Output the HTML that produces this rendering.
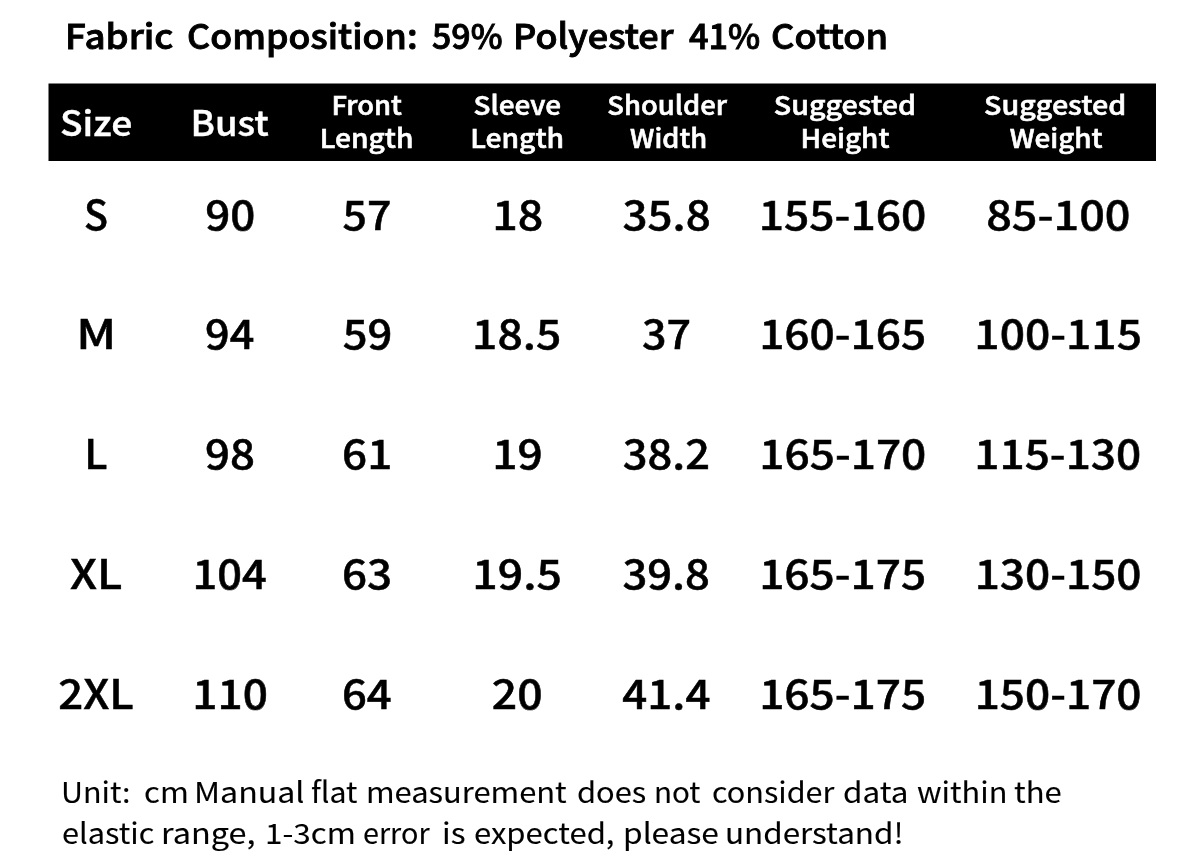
<!DOCTYPE html>
<html lang="en">
<head>
<meta charset="utf-8">
<title>Size Chart</title>
<style>
html,body{margin:0;padding:0;background:#fff;}
body{width:1200px;height:864px;position:relative;overflow:hidden;color:#000;
  font-family:"Noto Sans CJK SC","Liberation Sans",sans-serif;}
.t{position:absolute;left:0;top:0;white-space:pre;line-height:1;transform-origin:0 0;}
.t span{display:inline-block;transform-origin:0 0;}
#bar{position:absolute;left:0;top:0;width:1200px;height:200px;}
.title{font-size:34.5px;font-weight:500;color:#000;-webkit-text-stroke:0.9px #000;}
.h1{font-size:35px;font-weight:500;color:#fff;-webkit-text-stroke:0.4px #fff;}
.h2{font-size:26.2px;font-weight:500;color:#fff;-webkit-text-stroke:0.6px #fff;}
.d{font-size:40.4px;font-weight:500;color:#000;-webkit-text-stroke:0.5px #000;}
.f{font-size:28.5px;font-weight:400;color:#000;-webkit-text-stroke:0.1px #000;}
</style>
</head>
<body>
<svg id="bar" width="1200" height="200" viewBox="0 0 1200 200"><rect x="48.5" y="83.5" width="1107.5" height="77.5" fill="#000"/></svg>
<div class="t title" id="title" style="transform:translate(0px,17px)"><span style="margin-left:64.85px;transform:scaleX(1.0658)">Fabric</span> <span style="margin-left:12.65px;transform:scaleX(1.0385)">Composition:</span> <span style="margin-left:15.00px;transform:scaleX(0.9825)">59%</span> <span style="margin-left:1.86px;transform:scaleX(1.0449)">Polyester</span> <span style="margin-left:14.35px;transform:scaleX(0.9917)">41%</span> <span style="margin-left:2.53px;transform:scaleX(1.0507)">Cotton</span></div>
<div class="t h1" id="hs" style="transform:translate(59.96px,103px) scaleX(1.0638)">Size</div>
<div class="t h1" id="hb" style="transform:translate(190.57px,103px) scaleX(1.0435)">Bust</div>
<div class="t h2" id="h3a" style="transform:translate(331.40px,91px) scaleX(1.0446)">Front</div>
<div class="t h2" id="h3b" style="transform:translate(319.65px,124px) scaleX(1.0754)">Length</div>
<div class="t h2" id="h4a" style="transform:translate(473.56px,91px) scaleX(1.0632)">Sleeve</div>
<div class="t h2" id="h4b" style="transform:translate(470.20px,124px) scaleX(1.0767)">Length</div>
<div class="t h2" id="h5a" style="transform:translate(607.31px,91px) scaleX(1.0458)">Shoulder</div>
<div class="t h2" id="h5b" style="transform:translate(630.08px,124px) scaleX(1.0403)">Width</div>
<div class="t h2" id="h6a" style="transform:translate(773.80px,91px) scaleX(1.0942)">Suggested</div>
<div class="t h2" id="h6b" style="transform:translate(800.59px,124px) scaleX(1.0637)">Height</div>
<div class="t h2" id="h7a" style="transform:translate(984.11px,91px) scaleX(1.0933)">Suggested</div>
<div class="t h2" id="h7b" style="transform:translate(1009.63px,124px) scaleX(1.0605)">Weight</div>
<div class="t d" id="d00" style="transform:translate(83.99px,193px) scaleX(0.9776)">S</div>
<div class="t d" id="d01" style="transform:translate(205.23px,193px) scaleX(1.0880)">90</div>
<div class="t d" id="d02" style="transform:translate(342.51px,193px) scaleX(1.0612)">57</div>
<div class="t d" id="d03" style="transform:translate(492.24px,193px) scaleX(1.1097)">18</div>
<div class="t d" id="d04" style="transform:translate(622.49px,193px) scaleX(1.0878)">35.8</div>
<div class="t d" id="d05" style="transform:translate(758.67px,193px) scaleX(1.0996)">155-160</div>
<div class="t d" id="d06" style="transform:translate(986.14px,193px) scaleX(1.1140)">85-100</div>
<div class="t d" id="d10" style="transform:translate(76.36px,312px) scaleX(1.1908)">M</div>
<div class="t d" id="d11" style="transform:translate(205.09px,312px) scaleX(1.0713)">94</div>
<div class="t d" id="d12" style="transform:translate(342.75px,312px) scaleX(1.0780)">59</div>
<div class="t d" id="d13" style="transform:translate(472.10px,312px) scaleX(1.0993)">18.5</div>
<div class="t d" id="d14" style="transform:translate(642.07px,312px) scaleX(1.0655)">37</div>
<div class="t d" id="d15" style="transform:translate(759.13px,312px) scaleX(1.0956)">160-165</div>
<div class="t d" id="d16" style="transform:translate(974.35px,312px) scaleX(1.0985)">100-115</div>
<div class="t d" id="d20" style="transform:translate(84.16px,432px) scaleX(1.0330)">L</div>
<div class="t d" id="d21" style="transform:translate(205.06px,432px) scaleX(1.0846)">98</div>
<div class="t d" id="d22" style="transform:translate(342.08px,432px) scaleX(1.0900)">61</div>
<div class="t d" id="d23" style="transform:translate(492.15px,432px) scaleX(1.0978)">19</div>
<div class="t d" id="d24" style="transform:translate(622.80px,432px) scaleX(1.0763)">38.2</div>
<div class="t d" id="d25" style="transform:translate(759.30px,432px) scaleX(1.0945)">165-170</div>
<div class="t d" id="d26" style="transform:translate(974.29px,432px) scaleX(1.0942)">115-130</div>
<div class="t d" id="d30" style="transform:translate(70.08px,552px) scaleX(1.1223)">XL</div>
<div class="t d" id="d31" style="transform:translate(192.53px,552px) scaleX(1.0755)">104</div>
<div class="t d" id="d32" style="transform:translate(341.93px,552px) scaleX(1.0884)">63</div>
<div class="t d" id="d33" style="transform:translate(472.29px,552px) scaleX(1.1041)">19.5</div>
<div class="t d" id="d34" style="transform:translate(622.38px,552px) scaleX(1.0796)">39.8</div>
<div class="t d" id="d35" style="transform:translate(759.13px,552px) scaleX(1.0956)">165-175</div>
<div class="t d" id="d36" style="transform:translate(974.63px,552px) scaleX(1.0939)">130-150</div>
<div class="t d" id="d40" style="transform:translate(58.26px,672px) scaleX(1.0846)">2XL</div>
<div class="t d" id="d41" style="transform:translate(192.24px,672px) scaleX(1.0946)">110</div>
<div class="t d" id="d42" style="transform:translate(341.95px,672px) scaleX(1.0798)">64</div>
<div class="t d" id="d43" style="transform:translate(491.81px,672px) scaleX(1.1032)">20</div>
<div class="t d" id="d44" style="transform:translate(622.30px,672px) scaleX(1.0860)">41.4</div>
<div class="t d" id="d45" style="transform:translate(759.13px,672px) scaleX(1.0956)">165-175</div>
<div class="t d" id="d46" style="transform:translate(974.63px,672px) scaleX(1.0939)">150-170</div>
<div class="t f" id="f1" style="transform:translate(0px,777px)"><span style="margin-left:60.51px;transform:scaleX(1.0692)">Unit: </span> <span style="margin-left:5.35px;transform:scaleX(1.0934)">cm</span> <span style="margin-left:2.75px;transform:scaleX(1.1268)">Manual</span> <span style="margin-left:12.93px;transform:scaleX(1.0608)">flat</span> <span style="margin-left:5.41px;transform:scaleX(1.0836)">measurement</span> <span style="margin-left:18.69px;transform:scaleX(1.0811)">does</span> <span style="margin-left:6.99px;transform:scaleX(1.0369)">not</span> <span style="margin-left:6.33px;transform:scaleX(1.0718)">consider</span> <span style="margin-left:10.84px;transform:scaleX(1.1019)">data</span> <span style="margin-left:8.33px;transform:scaleX(1.0765)">within</span> <span style="margin-left:6.16px;transform:scaleX(1.0893)">the</span></div>
<div class="t f" id="f2" style="transform:translate(0px,818px)"><span style="margin-left:61.73px;transform:scaleX(1.0766)">elastic</span> <span style="margin-left:7.42px;transform:scaleX(1.1374)">range,</span> <span style="margin-left:14.73px;transform:scaleX(1.1022)">1-3cm</span> <span style="margin-left:9.09px;transform:scaleX(1.0094)">error</span> <span style="margin-left:6.65px;transform:scaleX(1.1083)">is</span> <span style="margin-left:3.84px;transform:scaleX(1.0878)">expected,</span> <span style="margin-left:13.33px;transform:scaleX(1.1109)">please</span> <span style="margin-left:10.04px;transform:scaleX(1.1011)">understand!</span></div>
</body>
</html>
